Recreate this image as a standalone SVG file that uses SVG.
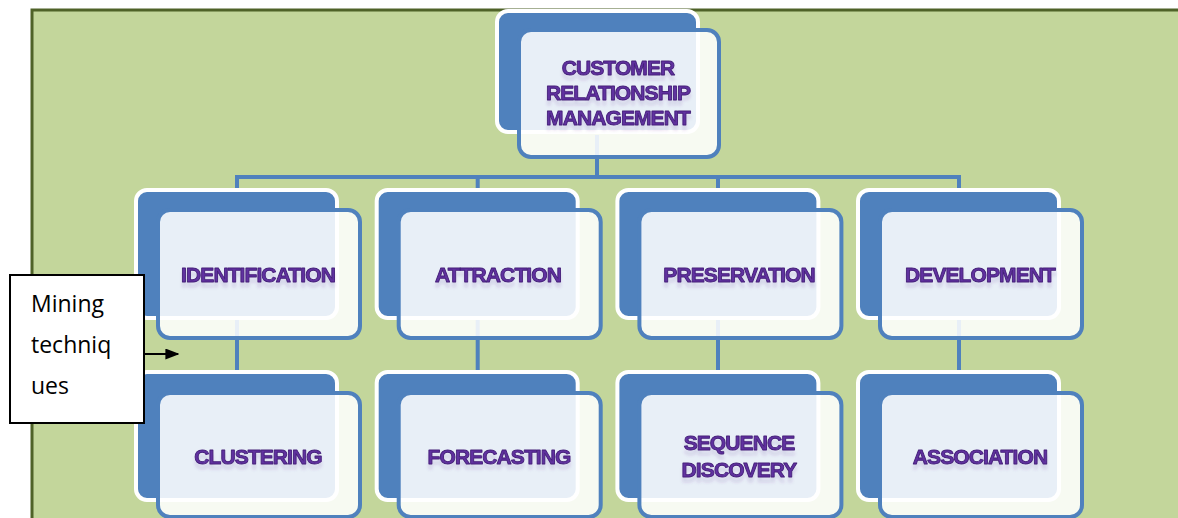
<svg xmlns="http://www.w3.org/2000/svg" width="1178" height="518" viewBox="0 0 1178 518">
  <defs>
    <style>
      .bg { fill: #c3d69b; stroke: #4f6228; stroke-width: 3; }
      .back { fill: #4f81bd; stroke: #ffffff; stroke-width: 4; }
      .front { fill: #ffffff; fill-opacity: 0.87; stroke: #4f81bd; stroke-width: 4; }
      .conn { fill: none; stroke: #4f81bd; stroke-width: 4; }
      .lbl { font-family: "Liberation Sans", Arial, sans-serif; font-weight: bold; font-size: 21px; letter-spacing: -0.9px; text-anchor: middle; fill: #6131a0; stroke: #45207a; stroke-width: 0.9; stroke-linejoin: round; filter: url(#glow); }
      .note { fill: #ffffff; stroke: #000000; stroke-width: 2; }
      .noteTxt { font-family: "Open Sans", "Liberation Sans", sans-serif; font-size: 23px; fill: #000000; }
    </style>
    <!-- faint reflection-like shadow under node captions -->
    <filter id="glow" x="-10%" y="-30%" width="120%" height="190%">
      <feOffset in="SourceAlpha" dy="5" result="o"/>
      <feGaussianBlur in="o" stdDeviation="1.8" result="ob"/>
      <feFlood flood-color="#5b2c8f" flood-opacity="0.14" result="sc"/>
      <feComposite in="sc" in2="ob" operator="in" result="shadow"/>
      <feMerge>
        <feMergeNode in="shadow"/>
        <feMergeNode in="SourceGraphic"/>
      </feMerge>
    </filter>
    <marker id="arrow" viewBox="0 0 10 10" refX="9" refY="5" markerWidth="14" markerHeight="11" markerUnits="userSpaceOnUse" orient="auto" preserveAspectRatio="none">
      <path d="M0,0 L10,5 L0,10 z" fill="#000000"/>
    </marker>
  </defs>

  <!-- page background panel -->
  <rect class="bg" x="32" y="10" width="1160" height="520"/>

  <!-- connectors -->
  <g id="connectors">
    <path class="conn" d="M597,135 V177 M237,177 H959 M237,175 V192 M477.7,175 V192 M718,175 V192 M959,175 V192"/>
    <path class="conn" d="M237,318 V374 M477.7,318 V374 M718,318 V374 M959,318 V374"/>
  </g>

  <!-- root -->
  <g id="node-crm">
    <rect class="back" x="497" y="11" width="201" height="121" rx="11"/>
    <rect class="front" x="519" y="30" width="200" height="127" rx="12"/>
    <text class="lbl" x="618" y="75">CUSTOMER</text>
    <text class="lbl" x="618" y="100">RELATIONSHIP</text>
    <text class="lbl" x="618" y="125">MANAGEMENT</text>
  </g>

  <!-- second level -->
  <g id="node-identification">
    <rect class="back" x="136" y="190" width="201" height="128" rx="11"/>
    <rect class="front" x="158" y="210" width="202" height="128" rx="12"/>
    <text class="lbl" x="258" y="282">IDENTIFICATION</text>
  </g>
  <g id="node-attraction">
    <rect class="back" x="376.7" y="190" width="201" height="128" rx="11"/>
    <rect class="front" x="398.7" y="210" width="202" height="128" rx="12"/>
    <text class="lbl" x="498" y="282">ATTRACTION</text>
  </g>
  <g id="node-preservation">
    <rect class="back" x="617.4" y="190" width="201" height="128" rx="11"/>
    <rect class="front" x="639.4" y="210" width="202" height="128" rx="12"/>
    <text class="lbl" x="739" y="282">PRESERVATION</text>
  </g>
  <g id="node-development">
    <rect class="back" x="858" y="190" width="201" height="128" rx="11"/>
    <rect class="front" x="880" y="210" width="202" height="128" rx="12"/>
    <text class="lbl" x="980" y="282">DEVELOPMENT</text>
  </g>

  <!-- third level -->
  <g id="node-clustering">
    <rect class="back" x="136" y="372" width="201" height="128" rx="11"/>
    <rect class="front" x="158" y="393" width="202" height="124" rx="12"/>
    <text class="lbl" x="258" y="464">CLUSTERING</text>
  </g>
  <g id="node-forecasting">
    <rect class="back" x="376.7" y="372" width="201" height="128" rx="11"/>
    <rect class="front" x="398.7" y="393" width="202" height="124" rx="12"/>
    <text class="lbl" x="499" y="464">FORECASTING</text>
  </g>
  <g id="node-sequence">
    <rect class="back" x="617.4" y="372" width="201" height="128" rx="11"/>
    <rect class="front" x="639.4" y="393" width="202" height="124" rx="12"/>
    <text class="lbl" x="739" y="450">SEQUENCE</text>
    <text class="lbl" x="739" y="477">DISCOVERY</text>
  </g>
  <g id="node-association">
    <rect class="back" x="858" y="372" width="201" height="128" rx="11"/>
    <rect class="front" x="880" y="393" width="202" height="124" rx="12"/>
    <text class="lbl" x="980" y="464">ASSOCIATION</text>
  </g>

  <!-- side note -->
  <g id="note-mining">
    <rect class="note" x="10" y="275" width="134" height="148"/>
    <text class="noteTxt" x="31" y="312">Mining</text>
    <text class="noteTxt" x="31" y="353">techniq</text>
    <text class="noteTxt" x="31" y="394">ues</text>
    <line x1="144" y1="354" x2="178" y2="354" stroke="#000000" stroke-width="2" marker-end="url(#arrow)"/>
  </g>
</svg>
